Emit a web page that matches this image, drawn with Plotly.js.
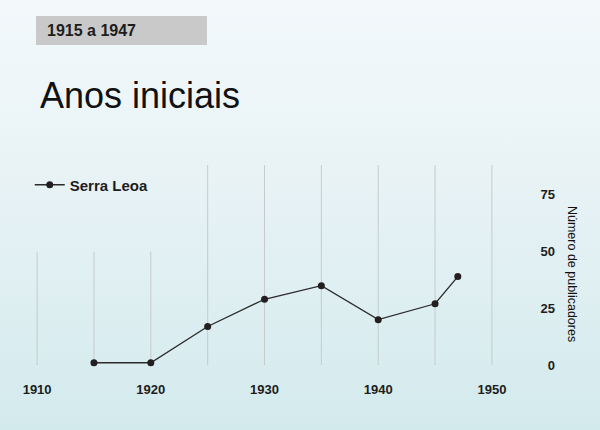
<!DOCTYPE html>
<html>
<head>
<meta charset="utf-8">
<script src="https://cdn.plot.ly/plotly-3.0.1.min.js"></script>
<style>
  html, body { margin: 0; padding: 0; }
  #chart {
    width: 600px;
    height: 430px;
    background: linear-gradient(to bottom, #f3f9fb 0%, #e7f2f5 45%, #d3eaed 100%);
  }
</style>
</head>
<body>
<div id="chart"></div>
<script>
// Serra Leoa - publicadores 1915 a 1947
const years = [1915, 1920, 1925, 1930, 1935, 1940, 1945, 1947];
const publicadores = [1, 1, 17, 29, 35, 20, 27, 39];
const seriesName = 'Serra Leoa';

const xTicks = [1910, 1920, 1930, 1940, 1950];
const yTicks = [0, 25, 50, 75];
const gridYears = [1910, 1915, 1920, 1925, 1930, 1935, 1940, 1945, 1950];

const periodLabel = '1915 a 1947';
const chartTitle = 'Anos iniciais';
const yTitle = 'Número de publicadores';

const ink = '#1d1d1d';
const font = 'Liberation Sans, Arial, sans-serif';
const yRange = [-1.76, 88.2];

// vertical grid: the early years stop under the legend
const gridShapes = gridYears.map(yr => ({
    type: 'line', xref: 'x', yref: 'y', layer: 'below',
    x0: yr, x1: yr, y0: 0, y1: yr <= 1920 ? 50 : yRange[1],
    line: { color: '#c6cbcc', width: 1 }
}));

const boxShape = {
    type: 'rect', xref: 'paper', yref: 'paper', layer: 'below',
    x0: 0.0592, x1: 0.3662, y0: 1.588, y1: 1.730,
    fillcolor: '#c9c9c9', line: { width: 0 }
};

const data = [{
    x: years,
    y: publicadores,
    name: seriesName,
    type: 'scatter',
    mode: 'lines+markers',
    line: { color: '#2a2a2a', width: 1.3 },
    marker: { color: '#231f20', size: 7 },
    hoverinfo: 'skip'
}];

const layout = {
    width: 600,
    height: 430,
    paper_bgcolor: 'rgba(0,0,0,0)',
    plot_bgcolor: 'rgba(0,0,0,0)',
    margin: { l: 3, r: 40, t: 165, b: 61 },
    font: { family: font, color: ink },
    showlegend: true,
    legend: {
        x: 0.048, y: 0.902, xanchor: 'left', yanchor: 'middle',
        bgcolor: 'rgba(0,0,0,0)',
        font: { family: font, size: 15, color: ink, weight: 'bold' }
    },
    xaxis: {
        domain: [0, 0.939],
        range: [1907, 1953],
        tickvals: xTicks,
        showgrid: false,
        zeroline: false,
        showline: false,
        ticks: '',
        tickfont: { family: font, size: 13, color: ink, weight: 'bold' },
        ticklabelstandoff: 11
    },
    yaxis: {
        range: yRange,
        anchor: 'free',
        position: 1,
        side: 'left',
        tickvals: yTicks,
        showgrid: false,
        zeroline: false,
        showline: false,
        ticks: '',
        tickfont: { family: font, size: 13, color: ink, weight: 'bold' },
        ticklabelstandoff: 5
    },
    shapes: gridShapes.concat([boxShape]),
    annotations: [
        {
            text: periodLabel, xref: 'paper', yref: 'paper',
            x: 0.075, y: 1.657, xanchor: 'left', yanchor: 'middle',
            showarrow: false,
            font: { family: font, size: 16, color: ink, weight: 'bold' }
        },
        {
            text: chartTitle, xref: 'paper', yref: 'paper',
            x: 0.063, y: 1.343, xanchor: 'left', yanchor: 'middle',
            showarrow: false,
            font: { family: font, size: 36, color: '#111111' }
        },
        {
            text: yTitle, xref: 'paper', yref: 'paper',
            x: 1.0215, y: 0.466, xanchor: 'center', yanchor: 'middle',
            textangle: 90, showarrow: false,
            font: { family: font, size: 12.5, color: '#111111' }
        }
    ]
};

Plotly.newPlot('chart', data, layout, { displayModeBar: false, staticPlot: true });
</script>
</body>
</html>
